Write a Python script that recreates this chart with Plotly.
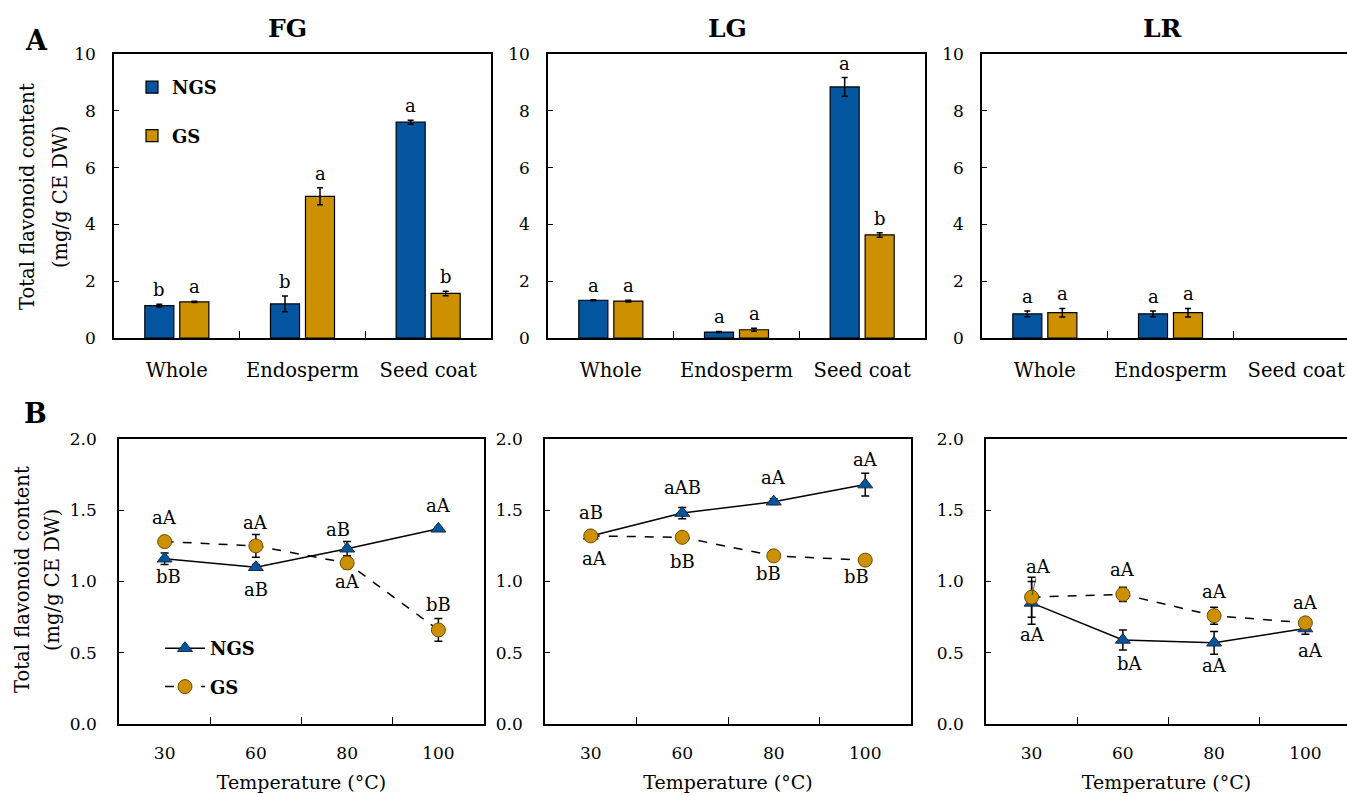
import plotly.graph_objects as go

W, H = 1347, 796
FONT = "DejaVu Serif"
BLUE = "#0455a0"
GOLD = "#cc9000"

# ---------------- data ----------------
parts = ["Whole", "Endosperm", "Seed coat"]
temps = ["30", "60", "80", "100"]

fg_ngs = [1.14, 1.20, 7.60]
fg_ngs_err = [0.05, 0.28, 0.07]
fg_gs = [1.27, 4.99, 1.57]
fg_gs_err = [0.02, 0.30, 0.08]
fg_ngs_let = ["b", "b", "a"]
fg_gs_let = ["a", "a", "b"]

lg_ngs = [1.33, 0.21, 8.84]
lg_ngs_err = [0.02, 0.02, 0.33]
lg_gs = [1.30, 0.29, 3.63]
lg_gs_err = [0.03, 0.05, 0.08]
lg_ngs_let = ["a", "a", "a"]
lg_gs_let = ["a", "a", "b"]

lr_ngs = [0.85, 0.85, None]
lr_ngs_err = [0.10, 0.10, None]
lr_gs = [0.89, 0.89, None]
lr_gs_err = [0.15, 0.15, None]
lr_ngs_let = ["a", "a", None]
lr_gs_let = ["a", "a", None]

fg_ngs_t = [1.16, 1.10, 1.23, 1.37]
fg_ngs_t_err = [0.04, 0.02, 0.05, 0.01]
fg_gs_t = [1.28, 1.25, 1.13, 0.66]
fg_gs_t_err = [0.01, 0.08, 0.04, 0.08]
fg_ngs_t_let = ["bB", "aB", "aB", "aA"]
fg_gs_t_let = ["aA", "aA", "aA", "bB"]

lg_ngs_t = [1.32, 1.48, 1.56, 1.68]
lg_ngs_t_err = [0.01, 0.04, 0.02, 0.08]
lg_gs_t = [1.32, 1.31, 1.18, 1.15]
lg_gs_t_err = [0.01, 0.02, 0.01, 0.01]
lg_ngs_t_let = ["aB", "aAB", "aA", "aA"]
lg_gs_t_let = ["aA", "bB", "bB", "bB"]

lr_ngs_t = [0.85, 0.59, 0.57, 0.67]
lr_ngs_t_err = [0.15, 0.07, 0.08, 0.04]
lr_gs_t = [0.89, 0.91, 0.76, 0.71]
lr_gs_t_err = [0.14, 0.05, 0.06, 0.03]
lr_ngs_t_let = ["aA", "bA", "aA", "aA"]
lr_gs_t_let = ["aA", "aA", "aA", "aA"]

# label placement (pixel offsets of the letter labels, style only)
fg_ngs_dy = [-18, -22, 19, 23]
fg_ngs_dx = [4, 0, -9, 0]
fg_ngs_lead = [False, False, True, False]
fg_gs_dy = [24, 23, -19, 25]
fg_gs_dx = [0, 0, 0, 0]
fg_gs_lead = [False, False, False, False]
lg_ngs_dy = [23, 26, 24, 25]
lg_ngs_dx = [0, 0, 0, 0]
lg_ngs_lead = [False, False, False, False]
lg_gs_dy = [-23, -24, -18, -16]
lg_gs_dx = [4, 0, -5, -9]
lg_gs_lead = [False, False, False, False]
lr_ngs_dy = [-32, -24, -23, -22]
lr_ngs_dx = [1, 7, 0, 5]
lr_ngs_lead = [False, False, False, False]
lr_gs_dy = [31, 25, 24, 20]
lr_gs_dx = [7, 0, 0, 0]
lr_gs_lead = [True, False, False, False]


def px_x(p):
    return p / W


def px_y(p):
    return 1 - p / H


fig = go.Figure()
annotations = []

# ---------------- top row: bars ----------------
top = [
    ("x", "y", fg_ngs, fg_ngs_err, fg_gs, fg_gs_err, fg_ngs_let, fg_gs_let, True),
    ("x2", "y2", lg_ngs, lg_ngs_err, lg_gs, lg_gs_err, lg_ngs_let, lg_gs_let, False),
    ("x3", "y3", lr_ngs, lr_ngs_err, lr_gs, lr_gs_err, lr_ngs_let, lr_gs_let, False),
]
for xa, ya, n, ne, g, ge, nl, gl, show in top:
    for name, vals, errs, col, lets, shift in [("NGS", n, ne, BLUE, nl, -17.5), ("GS", g, ge, GOLD, gl, 17.5)]:
        fig.add_trace(go.Bar(
            x=parts, y=vals, name=name, xaxis=xa, yaxis=ya,
            marker=dict(color=col, line=dict(color="black", width=1.2)),
            error_y=dict(type="data", array=errs, color="black", thickness=1.5, width=3),
            showlegend=show, legend="legend", legendgroup=name,
        ))
        for idx, (v, e, L) in enumerate(zip(vals, errs, lets)):
            if v is None or L is None:
                continue
            annotations.append(dict(
                x=idx, y=v + e, xref=xa, yref=ya, text=L, showarrow=False,
                xshift=shift, yanchor="bottom", yshift=2,
                font=dict(family=FONT, size=18, color="black"),
            ))

# ---------------- bottom row: lines ----------------
bottom = [
    ("x4", "y4", fg_ngs_t, fg_ngs_t_err, fg_gs_t, fg_gs_t_err, fg_ngs_t_let, fg_gs_t_let,
     (fg_ngs_dy, fg_ngs_dx, fg_ngs_lead), (fg_gs_dy, fg_gs_dx, fg_gs_lead), True),
    ("x5", "y5", lg_ngs_t, lg_ngs_t_err, lg_gs_t, lg_gs_t_err, lg_ngs_t_let, lg_gs_t_let,
     (lg_ngs_dy, lg_ngs_dx, lg_ngs_lead), (lg_gs_dy, lg_gs_dx, lg_gs_lead), False),
    ("x6", "y6", lr_ngs_t, lr_ngs_t_err, lr_gs_t, lr_gs_t_err, lr_ngs_t_let, lr_gs_t_let,
     (lr_ngs_dy, lr_ngs_dx, lr_ngs_lead), (lr_gs_dy, lr_gs_dx, lr_gs_lead), False),
]
for xa, ya, n, ne, g, ge, nl, gl, nplace, gplace, show in bottom:
    fig.add_trace(go.Scatter(
        x=temps, y=n, name="NGS", xaxis=xa, yaxis=ya, mode="lines+markers",
        line=dict(color="black", width=1.5),
        marker=dict(symbol="triangle-up", size=13, color=BLUE, line=dict(color="#1a2a40", width=1)),
        error_y=dict(type="data", array=ne, color="black", thickness=1.5, width=4),
        showlegend=show, legend="legend2", legendgroup="NGS2",
    ))
    fig.add_trace(go.Scatter(
        x=temps, y=g, name="GS", xaxis=xa, yaxis=ya, mode="lines+markers",
        line=dict(color="black", width=1.5, dash="dash"),
        marker=dict(symbol="circle", size=14, color=GOLD, line=dict(color="#6b4c00", width=1)),
        error_y=dict(type="data", array=ge, color="black", thickness=1.5, width=4),
        showlegend=show, legend="legend2", legendgroup="GS2",
    ))
    for vals, lets, (dys, dxs, leads) in [(n, nl, nplace), (g, gl, gplace)]:
        for idx, (v, L, dy, dx, lead) in enumerate(zip(vals, lets, dys, dxs, leads)):
            ann = dict(x=idx, y=v, xref=xa, yref=ya, text=L,
                       font=dict(family=FONT, size=18, color="black"))
            if lead:
                ann.update(showarrow=True, ax=dx, ay=-dy, arrowhead=0, arrowwidth=0.8,
                           arrowcolor="#333333", standoff=2)
            else:
                ann.update(showarrow=False, xshift=dx, yshift=dy, yanchor="middle")
            annotations.append(ann)

# ---------------- titles / panel letters ----------------
for txt, x, y, s in [("FG", 287, 28, 25), ("LG", 727, 28, 25), ("LR", 1162, 28, 25),
                     ("A", 36, 40, 27), ("B", 35, 413, 27)]:
    annotations.append(dict(
        x=px_x(x), y=px_y(y), xref="paper", yref="paper", text="<b>%s</b>" % txt,
        showarrow=False, xanchor="center", yanchor="middle",
        font=dict(family=FONT, size=s, color="black"),
    ))

# y-axis titles (two lines, wider line spacing than a single text allows)
ytitle_lines = ["Total flavonoid content", "(mg/g CE DW)"]
for (x1, x2, yc) in [(27, 60, 197), (22, 52, 580)]:
    for txt, xx in zip(ytitle_lines, (x1, x2)):
        annotations.append(dict(
            x=px_x(xx), y=px_y(yc), xref="paper", yref="paper", text=txt,
            showarrow=False, textangle=-90, xanchor="center", yanchor="middle",
            font=dict(family=FONT, size=19.5, color="black"),
        ))

# ---------------- axes ----------------
def base_axis():
    return dict(
        showline=True, linecolor="black", linewidth=1.5, mirror=True,
        showgrid=False, zeroline=False, ticks="inside", tickcolor="black",
        tickwidth=1.2, tickfont=dict(family=FONT, size=17, color="black"),
        automargin=False,
    )


xtitle = dict(text="Temperature (°C)", font=dict(family=FONT, size=19, color="black"), standoff=14)

top_y = [px_y(338), px_y(54)]
bot_y = [px_y(724), px_y(439)]
top_x = [(114, 491, 2.5), (548, 925, 2.5), (982, 1347, 2.5 - 12 / 125.7)]
bot_x = [(119, 484, 3.5), (545, 911, 3.5), (986, 1347, 3.5 - 4 / 91.3)]

layout = {}
for i, (a, b, r) in enumerate(top_x):
    k = "" if i == 0 else str(i + 1)
    xa = base_axis()
    xa.update(type="category", categoryorder="array", categoryarray=parts,
              domain=[px_x(a), px_x(b)], range=[-0.5, r], tickson="boundaries",
              ticklen=7, anchor="y" + k, ticklabelstandoff=14,
              tickfont=dict(family=FONT, size=19.5, color="black"))
    ya = base_axis()
    ya.update(domain=top_y, range=[0, 10], dtick=2, ticklen=5, anchor="x" + k,
              ticklabelstandoff=13)
    layout["xaxis" + k] = xa
    layout["yaxis" + k] = ya

for i, (a, b, r) in enumerate(bot_x):
    k = str(i + 4)
    xa = base_axis()
    xa.update(type="category", categoryorder="array", categoryarray=temps,
              domain=[px_x(a), px_x(b)], range=[-0.5, r], tickson="boundaries",
              ticklen=7, anchor="y" + k, ticklabelstandoff=13, title=xtitle)
    ya = base_axis()
    ya.update(domain=bot_y, range=[0, 2], dtick=0.5, tickformat=".1f", ticklen=5,
              anchor="x" + k, ticklabelstandoff=17)
    layout["xaxis" + k] = xa
    layout["yaxis" + k] = ya

fig.update_layout(
    template="none",
    width=W, height=H,
    margin=dict(l=0, r=0, t=0, b=0, autoexpand=False),
    paper_bgcolor="white", plot_bgcolor="white",
    barmode="group", bargap=0.443, bargroupgap=0.17,
    font=dict(family=FONT, color="black"),
    annotations=annotations,
    legend=dict(x=px_x(132), y=px_y(69), xanchor="left", yanchor="top",
                bgcolor="rgba(0,0,0,0)", tracegroupgap=22,
                font=dict(family=FONT, size=18, color="black", weight="bold"),
                traceorder="grouped"),
    legend2=dict(x=px_x(160), y=px_y(630), xanchor="left", yanchor="top",
                 bgcolor="rgba(0,0,0,0)", tracegroupgap=12,
                 font=dict(family=FONT, size=18, color="black", weight="bold"),
                 traceorder="grouped", itemwidth=40),
    **layout,
)

fig.write_html("out.html", config={"displayModeBar": False},
               post_script="document.body.style.margin='0px';")
